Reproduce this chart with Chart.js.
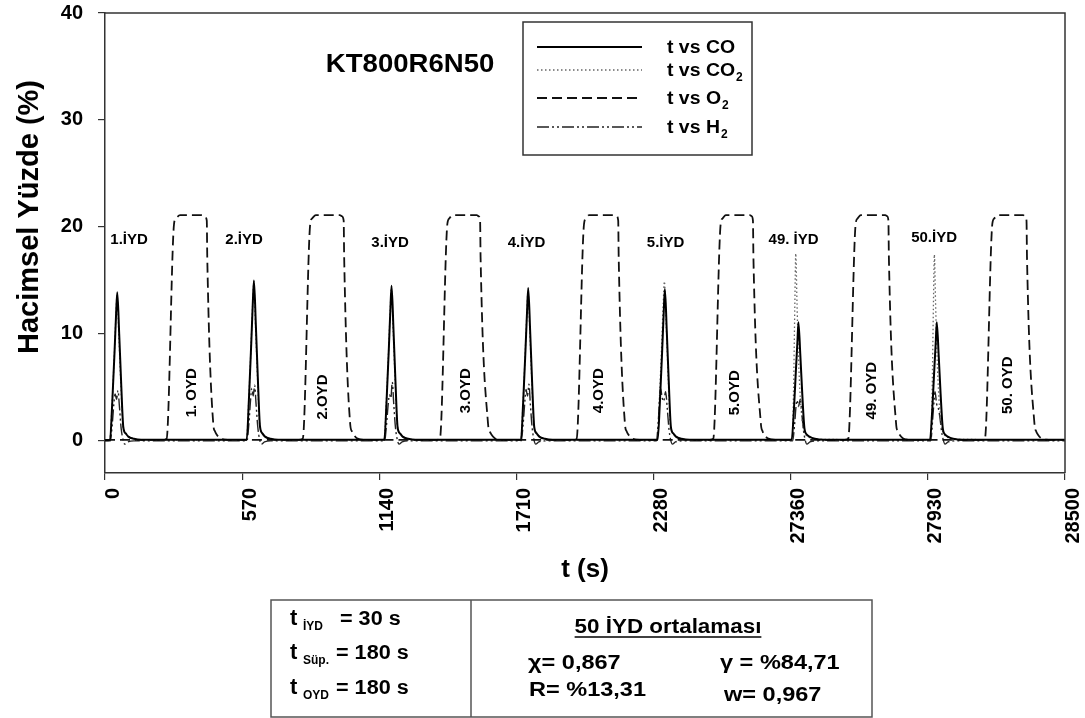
<!DOCTYPE html>
<html lang="tr">
<head>
<meta charset="utf-8">
<title>KT800R6N50</title>
<script src="https://cdn.jsdelivr.net/npm/chart.js@4.4.1/dist/chart.umd.min.js"></script>
<style>
  html, body { margin: 0; padding: 0; background: #fff; }
  canvas { display: block; }
</style>
</head>
<body>
<canvas id="chart" width="1085" height="718"></canvas>
<script>
const FONT = '"Liberation Sans", Arial, Helvetica, sans-serif';

// Cycle start times (s). Each 570 s cycle: 30 s İYD, 180 s süpürme, 180 s OYD, 180 s süpürme.
const cycleStart = [0, 570, 1140, 1710, 2280, 27360, 27930];
// The time axis skips the run between the end of cycle 5 and the start of cycle 49.
const gapFrom = 2850;
const gapTo = 27360;
const xTickSeconds = [0, 570, 1140, 1710, 2280, 27360, 27930, 28500];
const yTickValues = [0, 10, 20, 30, 40];

// Measured gas fractions per cycle, as [seconds after cycle start, volume %].
const coCycles = [
  [[0,0.05],[21,0.1],[30,3.5],[40,8.5],[46,11.8],[51,13.9],[59,10],[67,5.5],[76,1.3],[86,0.7],[97,0.4],[120,0.2],[150,0.1],[569,0.1]],
  [[0,0.1],[19,0.1],[28,3.8],[38,9.2],[44,12.7],[49,15.0],[57,10.8],[65,6],[74,1.4],[84,0.7],[95,0.4],[118,0.2],[150,0.1],[569,0.1]],
  [[0,0.1],[21,0.1],[30,3.6],[40,8.8],[46,12.2],[51,14.5],[59,10.4],[67,5.7],[76,1.3],[86,0.7],[97,0.4],[120,0.2],[150,0.1],[569,0.1]],
  [[0,0.1],[19,0.1],[28,3.6],[38,8.7],[44,12],[49,14.3],[57,10.3],[65,5.6],[74,1.3],[84,0.7],[95,0.4],[118,0.2],[150,0.1],[569,0.1]],
  [[0,0.1],[17,0.1],[26,3.5],[36,8.6],[42,11.9],[47,14.2],[55,10.2],[63,5.6],[72,1.3],[82,0.7],[93,0.4],[116,0.2],[150,0.1],[569,0.1]],
  [[0,0.1],[4,0.1],[13,2.8],[22,6.8],[28,9.3],[32,11.1],[40,8],[48,4.4],[57,1.2],[67,0.6],[78,0.4],[100,0.2],[140,0.1],[569,0.1]],
  [[0,0.1],[9,0.1],[18,2.8],[27,6.8],[33,9.3],[37,11.1],[45,8],[53,4.4],[62,1.2],[72,0.6],[83,0.4],[105,0.2],[145,0.1],[569,0.1]]
];
const co2Cycles = [
  [[0,0.05],[20,0.1],[29,3.3],[39,8.2],[45,11.5],[50,13.6],[58,9.6],[66,5.2],[75,1.4],[85,0.8],[97,0.45],[120,0.2],[150,0.1],[569,0.1]],
  [[0,0.1],[18,0.1],[27,3.6],[37,8.9],[43,12.4],[48,14.6],[56,10.5],[64,5.8],[73,1.5],[83,0.8],[95,0.45],[118,0.2],[150,0.1],[569,0.1]],
  [[0,0.1],[20,0.1],[29,3.5],[39,8.6],[45,12],[50,14.2],[58,10.2],[66,5.6],[75,1.4],[85,0.8],[97,0.45],[120,0.2],[150,0.1],[569,0.1]],
  [[0,0.1],[18,0.1],[27,3.4],[37,8.5],[43,11.8],[48,14.0],[56,10],[64,5.5],[73,1.4],[83,0.8],[95,0.45],[118,0.2],[150,0.1],[569,0.1]],
  [[0,0.1],[15,0.1],[24,3.8],[34,9.2],[40,12.8],[45,14.9],[53,10.6],[61,5.8],[70,1.5],[80,0.8],[92,0.45],[115,0.2],[150,0.1],[569,0.1]],
  [[0,0.1],[6,0.1],[12,5],[17,12.5],[21,17.5],[26,13],[32,8],[40,4],[50,1.5],[62,0.6],[80,0.3],[120,0.15],[569,0.1]],
  [[0,0.1],[12,0.1],[18,5],[23,12.5],[27,17.4],[32,13],[38,8],[46,4],[56,1.5],[68,0.6],[86,0.3],[126,0.15],[569,0.1]]
];
const o2Cycles = [
  [[0,0.1],[240,0.1],[256,0.2],[287,20.3],[295,20.8],[312,21.1],[402,21.1],[414,21.0],[423,20.6],[425,17.2],[450,1.6],[457,0.9],[464,0.6],[478,0.25],[510,0.1],[569,0.1]],
  [[0,0.1],[236,0.1],[252,0.2],[283,20.3],[291,20.8],[306,21.1],[406,21.1],[415,21.0],[422,20.6],[424,17.2],[449,1.6],[456,0.9],[463,0.6],[477,0.25],[509,0.1],[569,0.1]],
  [[0,0.1],[236,0.1],[252,0.2],[283,20.3],[291,20.8],[304,21.1],[405,21.1],[413,21.0],[419,20.6],[421,17.2],[452,1.6],[459,0.9],[466,0.6],[480,0.25],[512,0.1],[569,0.1]],
  [[0,0.1],[234,0.1],[250,0.2],[281,20.3],[289,20.8],[302,21.1],[408,21.1],[417,21.0],[423,20.6],[425,17.2],[451,1.6],[458,0.9],[465,0.6],[479,0.25],[511,0.1],[569,0.1]],
  [[0,0.1],[232,0.1],[248,0.2],[279,20.3],[287,20.8],[300,21.1],[400,21.1],[408,21.0],[413,20.6],[415,17.2],[446,1.6],[453,0.9],[460,0.6],[474,0.25],[506,0.1],[569,0.1]],
  [[0,0.1],[223,0.1],[239,0.2],[270,20.3],[278,20.8],[291,21.1],[393,21.1],[401,21.0],[406,20.6],[408,17.2],[438,1.6],[445,0.9],[452,0.6],[466,0.25],[498,0.1],[569,0.1]],
  [[0,0.1],[221,0.1],[237,0.2],[268,20.3],[276,20.8],[289,21.1],[396,21.1],[404,21.0],[410,20.6],[412,17.2],[443,1.6],[450,0.9],[457,0.6],[471,0.25],[503,0.1],[570,0.1]]
];
const h2Cycles = [
  [[0,0],[22,0],[30,1.5],[37,3.5],[42,4.4],[48,3.9],[54,4.7],[60,3.2],[67,1.2],[75,0.1],[82,-0.3],[95,-0.1],[120,0],[569,0]],
  [[0,0],[20,0],[28,1.6],[35,3.8],[40,4.9],[46,4.2],[52,5.2],[58,3.4],[65,1.3],[73,0.1],[80,-0.3],[93,-0.1],[118,0],[569,0]],
  [[0,0],[22,0],[30,1.5],[37,3.4],[42,4.3],[48,4.0],[54,5.5],[60,3.5],[67,1.3],[75,0.1],[82,-0.3],[95,-0.1],[120,0],[569,0]],
  [[0,0],[20,0],[28,1.6],[35,3.7],[40,4.8],[46,4.2],[52,5.3],[58,3.4],[65,1.3],[73,0.1],[80,-0.3],[93,-0.1],[118,0],[569,0]],
  [[0,0],[12,0],[20,2],[29,4.9],[36,4.0],[42,3.7],[50,4.6],[57,3],[64,1.1],[71,0.1],[78,-0.3],[91,-0.1],[116,0],[569,0]],
  [[0,0],[8,0],[16,1.5],[22,3.2],[26,3.8],[32,3.2],[40,3.9],[46,2.6],[53,1],[60,0.1],[67,-0.3],[80,-0.1],[105,0],[569,0]],
  [[0,0],[12,0],[20,2],[26,3.8],[30,4.6],[36,3.5],[44,3.0],[50,2.2],[57,0.9],[64,0.1],[71,-0.3],[84,-0.1],[109,0],[570,0]]
];

// Real time (s) -> position on the broken time axis.
const toAxis = t => (t <= gapFrom ? t : t - (gapTo - gapFrom));
const buildSeries = cycles =>
  cycles.flatMap((pts, i) => pts.map(([dt, v]) => ({ x: toAxis(cycleStart[i] + dt), y: v })));

// Text placed on the plot, positioned in data units (s, %).
const cycleNotes = [
  { text: '1.İYD', t: 100, v: 18.8 },
  { text: '2.İYD', t: 578, v: 18.8 },
  { text: '3.İYD', t: 1185, v: 18.5 },
  { text: '4.İYD', t: 1752, v: 18.5 },
  { text: '5.İYD', t: 2330, v: 18.5 },
  { text: '49. İYD', t: 27372, v: 18.8 },
  { text: '50.İYD', t: 27956, v: 19.0 }
];
const oxidationNotes = [
  { text: '1. OYD', t: 360, v: 4.5 },
  { text: '2.OYD', t: 905, v: 4.1 },
  { text: '3.OYD', t: 1500, v: 4.7 },
  { text: '4.OYD', t: 2054, v: 4.7 },
  { text: '5.OYD', t: 2618, v: 4.5 },
  { text: '49. OYD', t: 27697, v: 4.7 },
  { text: '50. OYD', t: 28264, v: 5.2 }
];

function drawText(ctx, str, x, y, size, opt = {}) {
  ctx.save();
  ctx.font = `bold ${size}px ${FONT}`;
  ctx.fillStyle = opt.color || '#000';
  ctx.textAlign = opt.align || 'left';
  ctx.textBaseline = opt.baseline || 'alphabetic';
  ctx.translate(x, y);
  if (opt.rotate) ctx.rotate(opt.rotate);
  const sx = opt.sx || 1;
  if (sx !== 1) ctx.scale(sx, 1);
  ctx.fillText(str, 0, 0);
  const w = ctx.measureText(str).width * sx;
  ctx.restore();
  return w;
}

// Closes the plot frame on the top and right sides.
const framePlugin = {
  id: 'frame',
  afterDatasetsDraw(chart) {
    const { ctx, chartArea: a } = chart;
    ctx.save();
    ctx.strokeStyle = '#333';
    ctx.lineWidth = 1.5;
    ctx.beginPath();
    ctx.moveTo(a.left, a.top);
    ctx.lineTo(a.right, a.top);
    ctx.lineTo(a.right, a.bottom);
    ctx.stroke();
    ctx.restore();
  }
};

// Cycle labels, sample name, axis titles.
const labelPlugin = {
  id: 'labels',
  afterDraw(chart) {
    const { ctx, scales: { x, y }, chartArea: a } = chart;
    cycleNotes.forEach(n => drawText(ctx, n.text, x.getPixelForValue(toAxis(n.t)), y.getPixelForValue(n.v), 15,
      { align: 'center', baseline: 'middle' }));
    oxidationNotes.forEach(n => drawText(ctx, n.text, x.getPixelForValue(toAxis(n.t)), y.getPixelForValue(n.v), 15,
      { align: 'center', baseline: 'middle', rotate: -Math.PI / 2 }));
    drawText(ctx, 'KT800R6N50', x.getPixelForValue(1268), y.getPixelForValue(35.2), 26,
      { align: 'center', baseline: 'middle', sx: 1.06 });
    drawText(ctx, 'Hacimsel Yüzde (%)', 30, 217, 29, { align: 'center', baseline: 'middle', rotate: -Math.PI / 2 });
    drawText(ctx, 't (s)', (a.left + a.right) / 2, 570, 26, { align: 'center', baseline: 'middle' });
  }
};

// Legend box with subscripted gas names.
const legendRows = [
  { name: 't vs CO', sub: '' },
  { name: 't vs CO', sub: '2' },
  { name: 't vs O', sub: '2' },
  { name: 't vs H', sub: '2' }
];
const legendPlugin = {
  id: 'gasLegend',
  afterDraw(chart) {
    const { ctx } = chart;
    const box = { x: 523, y: 22, w: 229, h: 133 };
    const rowY = [47, 70, 98, 127];
    ctx.save();
    ctx.strokeStyle = '#333';
    ctx.lineWidth = 1.5;
    ctx.strokeRect(box.x, box.y, box.w, box.h);
    legendRows.forEach((row, i) => {
      const ds = chart.data.datasets[i];
      ctx.save();
      ctx.strokeStyle = ds.borderColor;
      ctx.lineWidth = ds.borderWidth;
      ctx.setLineDash(ds.borderDash || []);
      ctx.beginPath();
      ctx.moveTo(537, rowY[i]);
      ctx.lineTo(642, rowY[i]);
      ctx.stroke();
      ctx.restore();
      const w = drawText(ctx, row.name, 667, rowY[i] + 6, 18, { sx: 1.08 });
      if (row.sub) drawText(ctx, row.sub, 667 + w + 1, rowY[i] + 11, 12);
    });
    ctx.restore();
  }
};

// Test conditions and the 50-cycle averages under the plot.
const tablePlugin = {
  id: 'conditions',
  afterDraw(chart) {
    const { ctx } = chart;
    ctx.save();
    ctx.strokeStyle = '#555';
    ctx.lineWidth = 1.5;
    ctx.strokeRect(271, 600, 601, 117);
    ctx.beginPath();
    ctx.moveTo(471, 600);
    ctx.lineTo(471, 717);
    ctx.stroke();
    ctx.restore();

    const rows = [
      { sub: 'İYD', val: '= 30 s', y: 625, vx: 340 },
      { sub: 'Süp.', val: '= 180 s', y: 659, vx: 336 },
      { sub: 'OYD', val: '= 180 s', y: 694, vx: 336 }
    ];
    rows.forEach(r => {
      drawText(ctx, 't', 290, r.y, 22);
      drawText(ctx, r.sub, 303, r.y + 5, 12);
      drawText(ctx, r.val, r.vx, r.y, 20, { sx: 1.08 });
    });

    const head = '50 İYD ortalaması';
    const hx = 668;
    const hw = drawText(ctx, head, hx, 633, 20, { align: 'center', sx: 1.12 });
    ctx.save();
    ctx.strokeStyle = '#000';
    ctx.lineWidth = 1.6;
    ctx.beginPath();
    ctx.moveTo(hx - hw / 2, 637);
    ctx.lineTo(hx + hw / 2, 637);
    ctx.stroke();
    ctx.restore();

    drawText(ctx, 'χ= 0,867', 528, 669, 21, { sx: 1.12 });
    drawText(ctx, 'γ = %84,71', 720, 669, 21, { sx: 1.12 });
    drawText(ctx, 'R= %13,31', 529, 696, 21, { sx: 1.12 });
    drawText(ctx, 'w= 0,967', 724, 701, 21, { sx: 1.12 });
  }
};

Chart.defaults.font.family = FONT;
Chart.defaults.color = '#000';

new Chart(document.getElementById('chart'), {
  type: 'scatter',
  data: {
    datasets: [
      { label: 't vs CO', data: buildSeries(coCycles), borderColor: '#000', borderWidth: 2 },
      { label: 't vs CO₂', data: buildSeries(co2Cycles), borderColor: '#666', borderWidth: 1.3, borderDash: [1.5, 2.5] },
      { label: 't vs O₂', data: buildSeries(o2Cycles), borderColor: '#111', borderWidth: 1.8, borderDash: [10, 5] },
      { label: 't vs H₂', data: buildSeries(h2Cycles), borderColor: '#222', borderWidth: 1.4, borderDash: [12, 3, 2, 3, 2, 3] }
    ]
  },
  options: {
    responsive: false,
    animation: false,
    showLine: true,
    layout: { padding: { top: 13, right: 20, bottom: 0, left: 0 } },
    elements: {
      point: { radius: 0, hoverRadius: 0 },
      line: { cubicInterpolationMode: 'monotone', fill: false }
    },
    plugins: { legend: { display: false }, tooltip: { enabled: false } },
    scales: {
      x: {
        type: 'linear',
        min: 0,
        max: toAxis(28500),
        afterBuildTicks: sc => { sc.ticks = xTickSeconds.map(t => ({ value: toAxis(t) })); },
        afterFit: sc => { sc.height = 245; sc.paddingLeft = 0; sc.paddingRight = 0; },
        ticks: {
          autoSkip: false, minRotation: 90, maxRotation: 90, padding: 8, labelOffset: 8,
          font: { size: 20, weight: 'bold' }, color: '#000',
          callback: (v, i) => String(xTickSeconds[i])
        },
        grid: { drawOnChartArea: false, drawTicks: true, tickLength: 7, color: '#333', lineWidth: 1.2 },
        border: { display: true, color: '#333', width: 1.5 }
      },
      y: {
        min: -3,
        max: 40,
        afterBuildTicks: sc => { sc.ticks = yTickValues.map(v => ({ value: v })); },
        afterFit: sc => { sc.width = 105; sc.paddingTop = 0; sc.paddingBottom = 0; },
        ticks: { padding: 15, font: { size: 20, weight: 'bold' }, color: '#000' },
        grid: { drawOnChartArea: false, drawTicks: true, tickLength: 7, color: '#333', lineWidth: 1.2 },
        border: { display: true, color: '#333', width: 1.5 }
      }
    }
  },
  plugins: [framePlugin, labelPlugin, legendPlugin, tablePlugin]
});
</script>
</body>
</html>
